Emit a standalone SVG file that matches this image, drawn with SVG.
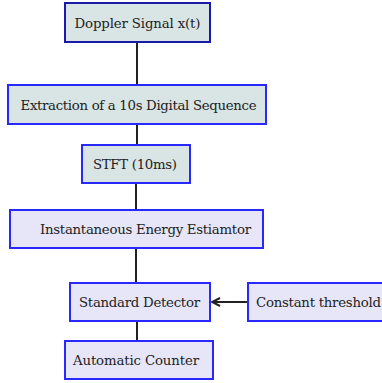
<svg xmlns="http://www.w3.org/2000/svg" width="382" height="383" viewBox="0 0 382 383">
<style>
.a{fill:#d9e4e4;stroke:#2828ff;stroke-width:2}
.b{fill:#e6e6f8;stroke:#2828ff;stroke-width:2}
.d{stroke:#1a1aa8}
.t{font-family:'DejaVu Serif','Liberation Serif',serif;font-size:13.3px;fill:#222}
.c{stroke:#222;stroke-width:2;fill:none}
</style>
<defs>
<marker id="ah" viewBox="0 0 10 10" refX="9" refY="5" markerWidth="10" markerHeight="10" markerUnits="userSpaceOnUse" orient="auto">
<path d="M1,1 L9,5 L1,9" fill="none" stroke="#222" stroke-width="2"/>
</marker>
</defs>
<rect width="382" height="383" fill="#fff"/>
<g id="connectors">
<line class="c" x1="137" y1="42" x2="137" y2="85"/>
<line class="c" x1="137" y1="124" x2="137" y2="145"/>
<line class="c" x1="136" y1="183" x2="136" y2="210"/>
<line class="c" x1="136" y1="248" x2="136" y2="283"/>
<line class="c" x1="137" y1="321" x2="137" y2="341"/>
<line class="c" x1="248" y1="302" x2="212" y2="302" marker-end="url(#ah)"/>
</g>
<g id="n1"><rect class="a d" x="65" y="3" width="145" height="39"/><text class="t" x="137.5" y="27.5" text-anchor="middle" textLength="126">Doppler Signal x(t)</text></g>
<g id="n2"><rect class="a" x="8" y="85" width="258" height="39"/><text class="t" x="138.5" y="109.5" text-anchor="middle" textLength="236">Extraction of a 10s Digital Sequence</text></g>
<g id="n3"><rect class="a" x="82" y="145" width="108" height="38"/><text class="t" x="135" y="169" text-anchor="middle" textLength="84">STFT (10ms)</text></g>
<g id="n4"><rect class="b" x="10" y="210" width="253" height="38"/><text class="t" x="40" y="234" textLength="211">Instantaneous Energy Estiamtor</text></g>
<g id="n5"><rect class="b" x="70" y="283" width="140" height="38"/><text class="t" x="79" y="307" textLength="121">Standard Detector</text></g>
<g id="n6"><rect class="b" x="248" y="283" width="140" height="38"/><text class="t" x="256" y="307" textLength="125">Constant threshold</text></g>
<g id="n7"><rect class="b" x="65" y="341" width="148" height="38"/><text class="t" x="73" y="365" textLength="126">Automatic Counter</text></g>
</svg>
